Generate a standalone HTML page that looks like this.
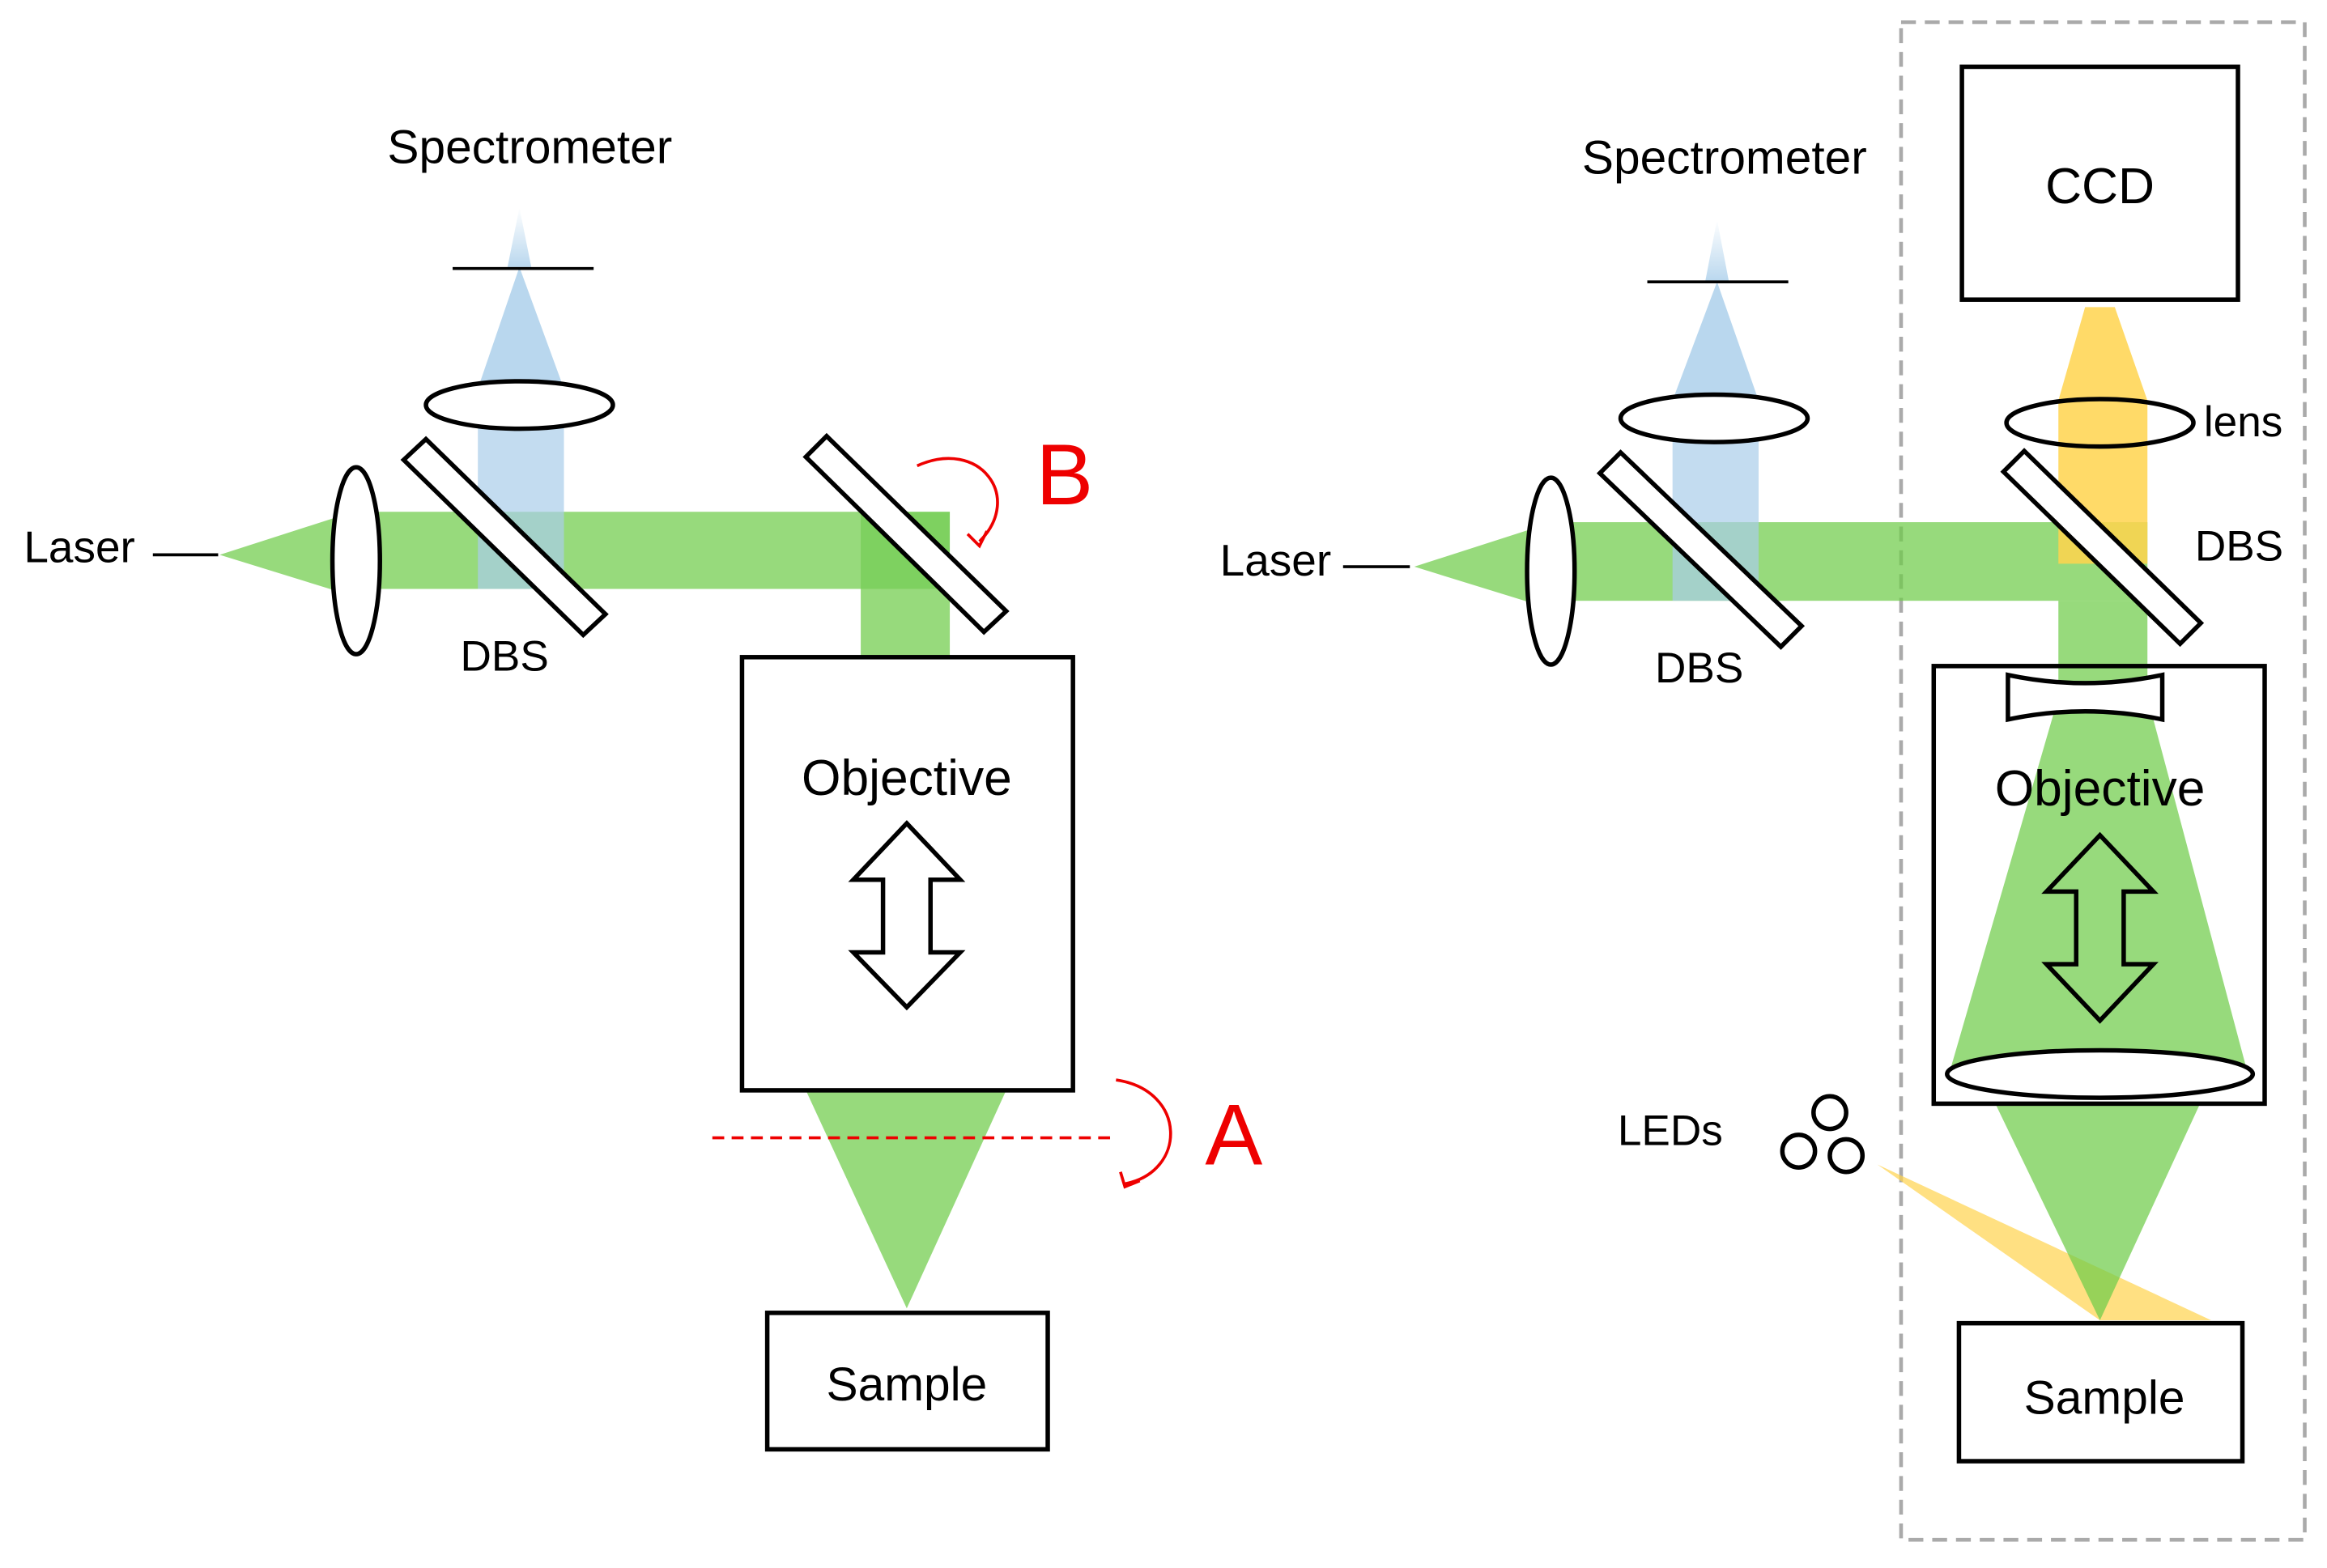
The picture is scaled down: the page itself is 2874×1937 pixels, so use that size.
<!DOCTYPE html>
<html><head><meta charset="utf-8"><style>html,body{margin:0;padding:0;background:#fff}svg{display:block}</style></head>
<body>
<svg width="2874" height="1937" viewBox="0 0 1568 1057" preserveAspectRatio="none" xmlns="http://www.w3.org/2000/svg" font-family="Liberation Sans, sans-serif">
<defs>
<linearGradient id="bf" x1="0" y1="1" x2="0" y2="0"><stop offset="0" stop-color="#b9d7ee"/><stop offset="1" stop-color="#b9d7ee" stop-opacity="0"/></linearGradient>
</defs>
<!-- LEFT -->
<text x="16" y="379" font-size="30">Laser</text>
<line x1="103" y1="374" x2="147" y2="374" stroke="#000" stroke-width="2"/>
<g fill="#6fcc4a" fill-opacity="0.72">
<polygon points="148,374 232,347 232,400"/>
<rect x="240" y="345" width="400" height="52"/>
<rect x="580" y="397" width="60" height="46"/>
<polygon points="543,735 678,735 611,882"/>
</g>
<rect x="580" y="345" width="60" height="52" fill="#4fbf2e" fill-opacity="0.35"/>
<rect x="322" y="273" width="58" height="124" fill="#a9cde9" fill-opacity="0.7"/>
<polygon points="322,262 380,262 350,180" fill="#b9d7ee"/>
<polygon points="342,180 358,180 350,140" fill="url(#bf)"/>
<line x1="305" y1="181" x2="400" y2="181" stroke="#000" stroke-width="2"/>
<ellipse cx="350" cy="273" rx="63" ry="16" fill="#fff" stroke="#000" stroke-width="3"/>
<ellipse cx="240" cy="378" rx="16" ry="63" fill="#fff" stroke="#000" stroke-width="3"/>
<polygon points="272,310 287,296 408,414 393,428" fill="#fff" stroke="#000" stroke-width="3"/>
<polygon points="543,308 557,294 678,412 663,426" fill="#fff" stroke="#000" stroke-width="3"/>
<text x="357" y="110" font-size="32" text-anchor="middle">Spectrometer</text>
<text x="340" y="452" font-size="29" text-anchor="middle">DBS</text>
<rect x="500" y="443" width="223" height="292" fill="none" stroke="#000" stroke-width="3"/>
<text x="611" y="536" font-size="34" text-anchor="middle">Objective</text>
<polygon points="611,555 647,593 627,593 627,642 647,642 611,679 575,642 595,642 595,593 575,593" fill="#fff" stroke="#000" stroke-width="3"/>
<line x1="480" y1="767" x2="752" y2="767" stroke="#e00" stroke-width="2" stroke-dasharray="8,5"/>
<path d="M752,728 C800,735 800,790 758,798" fill="none" stroke="#e00" stroke-width="2"/>
<path d="M755,790 l3,10 l10,-4" fill="none" stroke="#e00" stroke-width="2"/>
<text x="812" y="785" font-size="58" fill="#e00">A</text>
<path d="M618,314 C660,295 690,335 660,365" fill="none" stroke="#e00" stroke-width="2"/>
<path d="M652,360 l8,8 l5,-10" fill="none" stroke="#e00" stroke-width="2"/>
<text x="698" y="340" font-size="58" fill="#e00">B</text>
<rect x="517" y="885" width="189" height="92" fill="#fff" stroke="#000" stroke-width="3"/>
<text x="611" y="944" font-size="32" text-anchor="middle">Sample</text>

<!-- RIGHT -->
<rect x="1281" y="15" width="272" height="1023" fill="none" stroke="#aaa" stroke-width="2.5" stroke-dasharray="10,6"/>
<text x="822" y="388" font-size="30">Laser</text>
<line x1="905" y1="382" x2="950" y2="382" stroke="#000" stroke-width="2"/>
<polygon points="1265,785 1415,890 1490,890" fill="#ffd34d" fill-opacity="0.7"/>
<g fill="#6fcc4a" fill-opacity="0.72">
<polygon points="953,382 1037,355 1037,408"/>
<rect x="1045" y="352" width="402" height="53"/>
<polygon points="1387,405 1447,405 1447,470 1515,725 1313,725 1387,470"/>
<polygon points="1345,745 1482,745 1415,890"/>
</g>
<rect x="1127" y="282" width="58" height="123" fill="#a9cde9" fill-opacity="0.7"/>
<polygon points="1127,270 1185,270 1157,190" fill="#b9d7ee"/>
<polygon points="1149,190 1165,190 1157,148" fill="url(#bf)"/>
<line x1="1110" y1="190" x2="1205" y2="190" stroke="#000" stroke-width="2"/>
<ellipse cx="1155" cy="282" rx="63" ry="16" fill="#fff" stroke="#000" stroke-width="3"/>
<ellipse cx="1045" cy="385" rx="16" ry="63" fill="#fff" stroke="#000" stroke-width="3"/>
<polygon points="1078,319 1092,305 1214,422 1200,436" fill="#fff" stroke="#000" stroke-width="3"/>
<text x="1162" y="117" font-size="32" text-anchor="middle">Spectrometer</text>
<text x="1145" y="460" font-size="29" text-anchor="middle">DBS</text>
<polygon points="1387,270 1447,270 1447,380 1387,380" fill="#ffd34d" fill-opacity="0.85"/>
<polygon points="1405,207 1425,207 1447,270 1387,270" fill="#ffd34d" fill-opacity="0.85"/>
<rect x="1322" y="45" width="186" height="157" fill="#fff" stroke="#000" stroke-width="3"/>
<text x="1415" y="137" font-size="34" text-anchor="middle">CCD</text>
<ellipse cx="1415" cy="285" rx="63" ry="16" fill="none" stroke="#000" stroke-width="3"/>
<text x="1485" y="294" font-size="29">lens</text>
<polygon points="1350,318 1364,304 1483,420 1469,434" fill="#fff" stroke="#000" stroke-width="3"/>
<text x="1479" y="378" font-size="29">DBS</text>
<rect x="1303" y="449" width="223" height="295" fill="none" stroke="#000" stroke-width="3"/>
<path d="M1353,455 Q1405,466 1457,455 L1457,485 Q1405,474 1353,485 Z" fill="#fff" stroke="#000" stroke-width="3"/>
<text x="1415" y="543" font-size="34" text-anchor="middle">Objective</text>
<polygon points="1415,563 1451,601 1431,601 1431,650 1451,650 1415,688 1379,650 1399,650 1399,601 1379,601" fill="none" stroke="#000" stroke-width="3"/>
<ellipse cx="1415" cy="724" rx="103" ry="16" fill="#fff" stroke="#000" stroke-width="3"/>
<text x="1090" y="772" font-size="29">LEDs</text>
<circle cx="1233" cy="750" r="11" fill="#fff" stroke="#000" stroke-width="3"/>
<circle cx="1212" cy="776" r="11" fill="#fff" stroke="#000" stroke-width="3"/>
<circle cx="1244" cy="779" r="11" fill="#fff" stroke="#000" stroke-width="3"/>
<rect x="1320" y="892" width="191" height="93" fill="#fff" stroke="#000" stroke-width="3"/>
<text x="1418" y="953" font-size="32" text-anchor="middle">Sample</text>
</svg>
</body></html>
